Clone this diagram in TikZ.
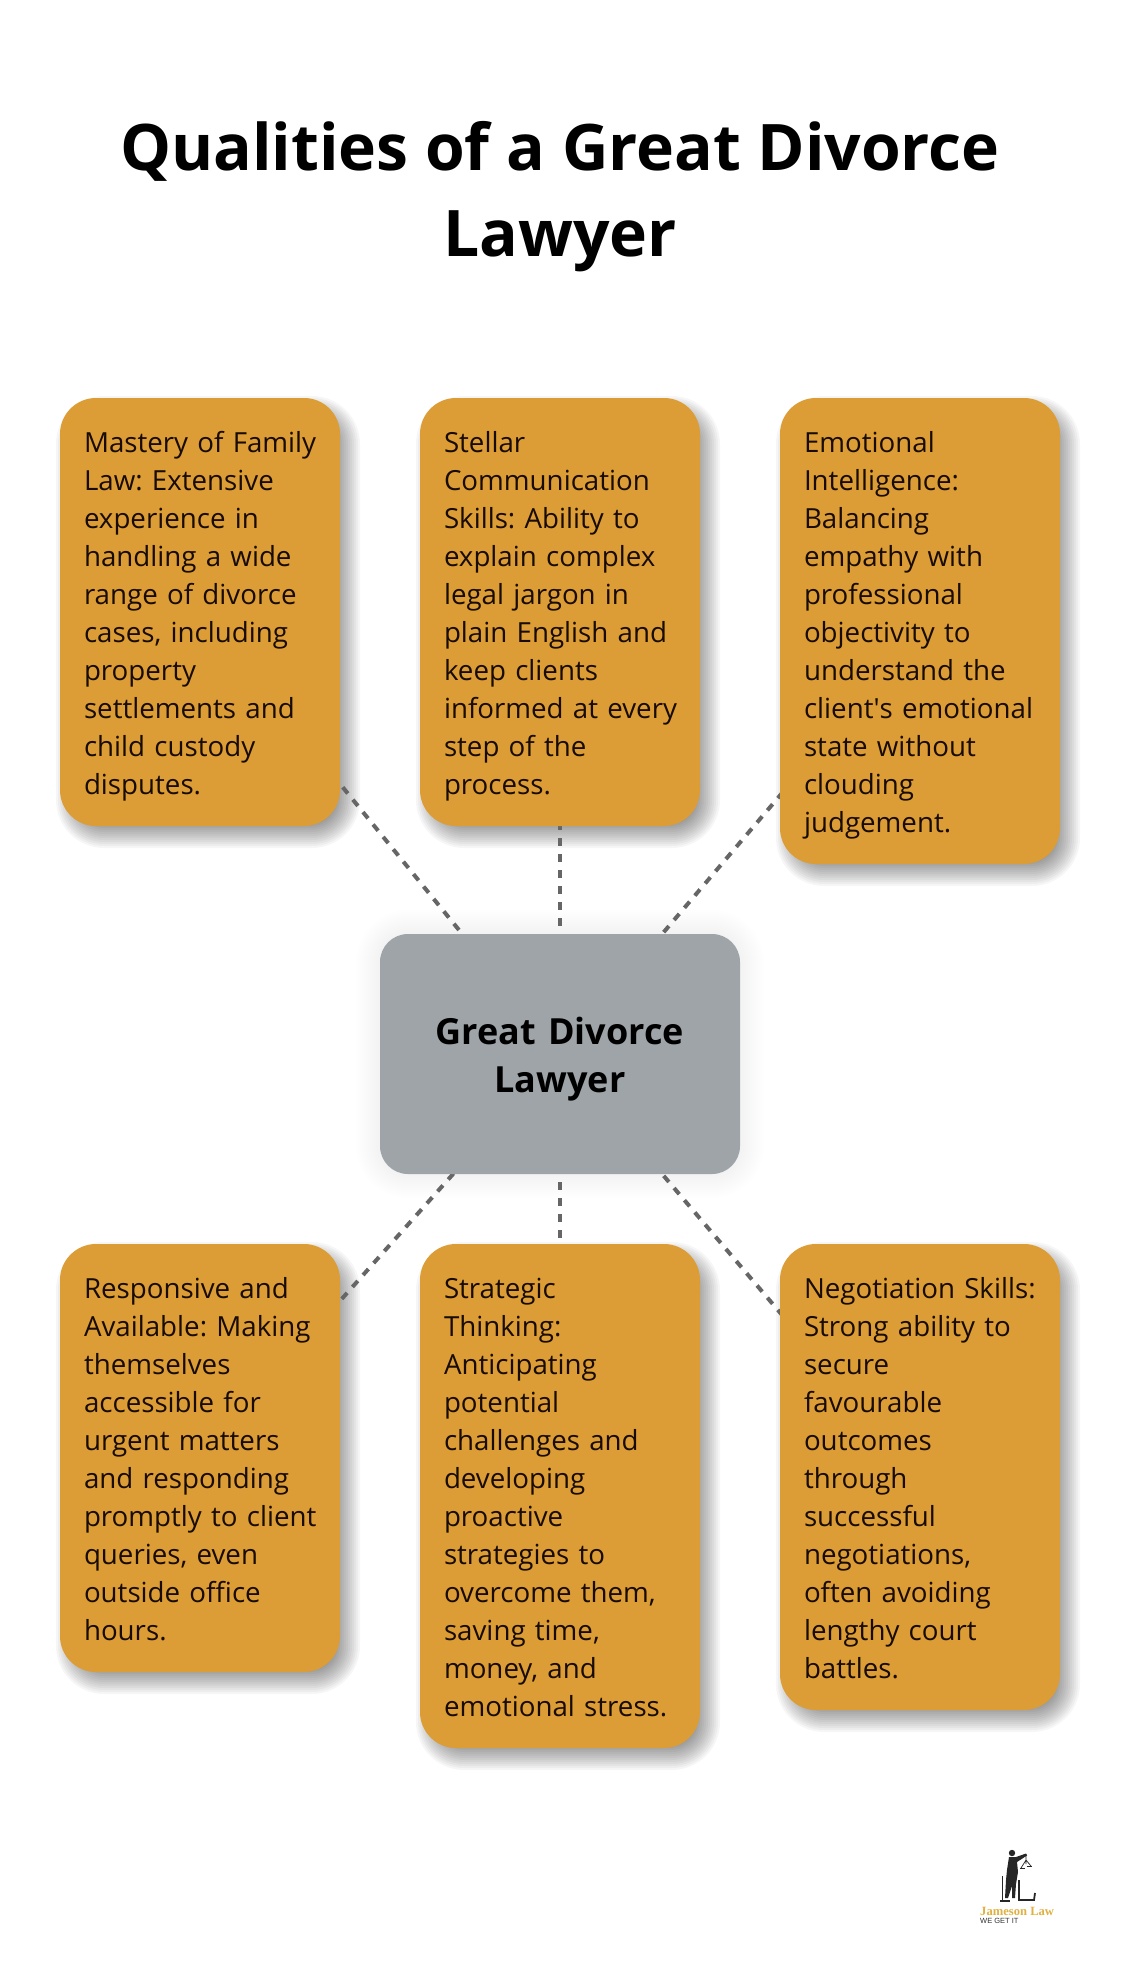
\documentclass[tikz,border=0pt]{standalone}
\usepackage{fontspec}
\setmainfont{Open Sans}
\newfontfamily\logoserif{Liberation Serif}
\newfontfamily\logosans{Liberation Sans}
\usetikzlibrary{calc}
\definecolor{cardfill}{HTML}{DC9C36}
\definecolor{hubfill}{HTML}{9EA4A8}
\definecolor{linkgray}{HTML}{666666}
\definecolor{inkdark}{HTML}{170B02}
\definecolor{logogold}{HTML}{E0B040}
\pgfdeclarelayer{back}
\pgfsetlayers{back,main}
\frenchspacing
\tikzset{
  cardbox/.style={draw=none,fill=cardfill,rounded corners=36pt,minimum width=280pt,
    inner xsep=14pt,inner ysep=0pt,outer sep=0pt,text width=252pt,align=left,text=inkdark,
    font=\fontsize{27.7}{38}\selectfont,
    execute at begin node={\leftskip=10pt\relax\frenchspacing\rule{0pt}{30pt}},
    execute at end node={\rule[-8pt]{0pt}{0pt}}},
  hubbox/.style={draw=none,fill=hubfill,rounded corners=28pt,minimum width=360pt,minimum height=240pt,
    inner sep=0pt,outer sep=0pt,text width=320pt,align=center,text=black,
    font=\fontsize{36}{48}\selectfont\bfseries,
    execute at begin node={\rule{0pt}{37pt}},
    execute at end node={\rule[-9pt]{0pt}{0pt}}},
  titlenode/.style={inner sep=0pt,align=center,text=black,font=\fontsize{64.2}{86}\selectfont\bfseries},
  linkline/.style={draw=linkgray,line width=4pt,dash pattern=on 8pt off 8pt},
}
% soft shadow made of stacked translucent copies of a node's outline
\newcommand{\softshade}[6]{% node, dx, dy, radius, spread, opacity
  \foreach \j in {0,...,#5}{
    \pgfmathsetmacro{\kk}{2*\j-#5}
    \pgfmathsetmacro{\rr}{max(#4+\kk,1)}
    \fill[black,opacity=#6,rounded corners=\rr pt]
      ($(#1.north west)+(#2-\kk,#3-\kk)$) rectangle ($(#1.south east)+(#2+\kk,#3+\kk)$);
  }}
\begin{document}
\begin{tikzpicture}[x=1pt,y=-1pt]
\useasboundingbox (0,0) rectangle (1120,1988);
\node[titlenode] (title) at (560,197) {Qualities of a Great Divorce\\Lawyer};
\node[hubbox] (hub) at (560,1054) {Great Divorce\\Lawyer};
\node[cardbox,minimum height=428pt] (a) at (200,612) {Mastery of Family\\Law: Extensive\\experience in\\handling a wide\\range of divorce\\cases, including\\property\\settlements and\\child custody\\disputes.};
\node[cardbox,minimum height=428pt] (b) at (560,612) {Stellar\\Communication\\Skills: Ability to\\explain complex\\legal jargon in\\plain English and\\keep clients\\informed at every\\step of the\\process.};
\node[cardbox,minimum height=466pt] (c) at (920,631) {Emotional\\Intelligence:\\Balancing\\empathy with\\professional\\objectivity to\\understand the\\client\textquotesingle s emotional\\state without\\clouding\\judgement.};
\node[cardbox,minimum height=428pt] (d) at (200,1458) {Responsive and\\Available: Making\\themselves\\accessible for\\urgent matters\\and responding\\promptly to client\\queries, even\\outside office\\hours.};
\node[cardbox,minimum height=504pt] (e) at (560,1496) {Strategic\\Thinking:\\Anticipating\\potential\\challenges and\\developing\\proactive\\strategies to\\overcome them,\\saving time,\\money, and\\emotional stress.};
\node[cardbox,minimum height=466pt] (f) at (920,1477) {Negotiation Skills:\\Strong ability to\\secure\\favourable\\outcomes\\through\\successful\\negotiations,\\often avoiding\\lengthy court\\battles.};
\begin{pgfonlayer}{back}
\fill[white] (0,0) rectangle (1120,1988);
\foreach \t in {a,b,c,d,e,f}{\softshade{\t}{8}{10}{36}{12}{0.035}}
\softshade{hub}{0}{0}{28}{24}{0.005}
\foreach \t in {a,b,c,d,e,f}{\draw[linkline] (hub.center) -- (\t.center);}
\end{pgfonlayer}
% logo
\fill[black!85] (1012,1853) circle (3.2);
\fill[black!85] (1009,1857) -- (1016,1857) -- (1026,1853.5) -- (1027,1855.5) -- (1017,1862) -- (1018,1872) -- (1016,1884) -- (1015,1898) -- (1012,1898) -- (1012,1886) -- (1008,1898) -- (1005,1898) -- (1006,1880) -- (1007,1870) -- cycle;
\draw[black!85,line width=1pt] (1002,1876) -- (1002,1900);
\draw[black!85,line width=1.8pt] (1019,1880) -- (1019,1900) -- (1034,1900) -- (1035,1893);
\draw[black!85,line width=1.6pt] (1000,1901) -- (1010,1901);
\draw[black!85,line width=.7pt] (1026,1854) -- (1026,1864) (1021,1868) -- (1026,1860) -- (1031,1866);
\draw[black!85,line width=.9pt] (1020,1868.5) -- (1025,1868.5) (1027,1866) -- (1032,1866);
\node[anchor=base west,inner sep=0pt,text=logogold,font=\fontsize{12.6}{13}\selectfont\logoserif\bfseries] (brand) at (980,1915) {Jameson Law};
\node[anchor=base west,inner sep=0pt,text=black!80,font=\fontsize{7.5}{8}\selectfont\logosans] (motto) at (980,1923) {WE GET IT};
\end{tikzpicture}
\end{document}
